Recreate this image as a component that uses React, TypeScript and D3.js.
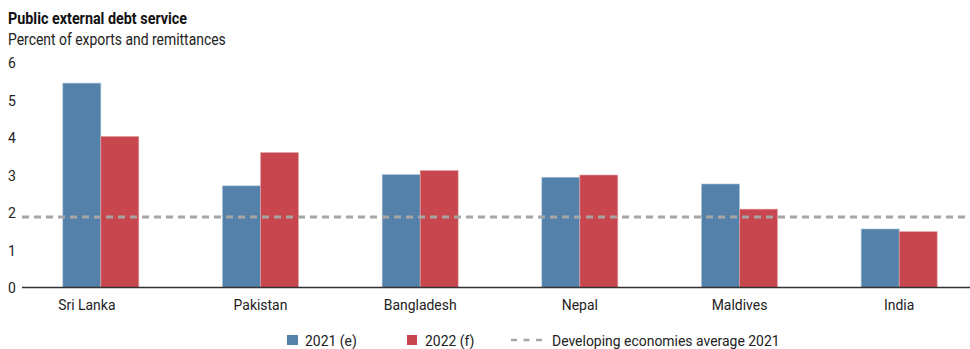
import React from "react";
import * as d3 from "d3";

const categories = ["Sri Lanka", "Pakistan", "Bangladesh", "Nepal", "Maldives", "India"];
const series2021 = [5.45, 2.71, 3.01, 2.94, 2.76, 1.56];
const series2022 = [4.03, 3.6, 3.12, 3.0, 2.09, 1.49];
const developingAverage2021 = 1.88;
const yTicks = [0, 1, 2, 3, 4, 5, 6];
const seriesNames = ["2021 (e)", "2022 (f)"];
const averageLabel = "Developing economies average 2021";

const W = 970;
const H = 349;
const FONT = "Roboto, 'Noto Sans', sans-serif";
const BLUE = "#5481a9";
const RED = "#c8464d";
const GRAY = "#a6a6a6";

// Narrow text: Roboto squeezed horizontally to a condensed width
function NText({
  x,
  y,
  sx = 0.9,
  anchor = "start",
  size = 15.5,
  weight = "normal",
  fill = "#222",
  children,
}: {
  x: number;
  y: number;
  sx?: number;
  anchor?: "start" | "middle" | "end";
  size?: number;
  weight?: string;
  fill?: string;
  children: React.ReactNode;
}) {
  return (
    <text
      transform={`translate(${x},${y}) scale(${sx},1)`}
      fontSize={size}
      fontWeight={weight}
      textAnchor={anchor}
      fill={fill}
    >
      {children}
    </text>
  );
}

export default function App() {
  const x = d3.scaleBand<string>().domain(categories).range([21, 979]).paddingInner(0).paddingOuter(0);
  const y = d3.scaleLinear().domain([0, 6]).range([287.5, 62.5]);
  const barW = 38;

  const series = [
    { name: seriesNames[0], values: series2021, color: BLUE },
    { name: seriesNames[1], values: series2022, color: RED },
  ];

  return (
    <svg width={W} height={H} style={{ position: "absolute", left: 0, top: 0, background: "#fff" }} fontFamily={FONT}>
      <NText x={8} y={24} size={16.5} sx={0.87} weight="bold" fill="#111">Public external debt service</NText>
      <NText x={8} y={45} size={16} sx={0.87}>Percent of exports and remittances</NText>

      {yTicks.map((t) => (
        <NText key={t} x={8} y={y(t) + 5.5}>{t}</NText>
      ))}

      {series.map((s, si) =>
        categories.map((c, i) => {
          const cx = (x(c) as number) + x.bandwidth() / 2;
          const x0 = cx - barW + si * barW;
          return (
            <rect
              key={s.name + c}
              x={x0}
              y={y(s.values[i])}
              width={barW}
              height={y(0) - y(s.values[i])}
              fill={s.color}
              stroke={si === 0 ? "#a9c0d6" : "#e6a6aa"}
              strokeWidth={0.6}
            />
          );
        })
      )}

      <line x1={22} x2={970} y1={y(0)} y2={y(0)} stroke="#333" strokeWidth={1.3} />

      <line
        x1={22}
        x2={970}
        y1={y(developingAverage2021)}
        y2={y(developingAverage2021)}
        stroke={GRAY}
        strokeWidth={3}
        strokeDasharray="7 5"
      />

      {categories.map((c, i) => {
        const cx = (x(c) as number) + x.bandwidth() / 2 + (i === 0 ? -14 : 0);
        return (
          <NText key={c} x={cx} y={310} anchor="middle">{c}</NText>
        );
      })}

      {/* legend */}
      <rect x={287} y={335} width={11} height={10} fill={BLUE} />
      <NText x={305} y={345.5}>{seriesNames[0]}</NText>
      <rect x={407} y={335} width={10} height={10} fill={RED} />
      <NText x={425} y={345.5}>{seriesNames[1]}</NText>
      <line x1={511} x2={542} y1={340} y2={340} stroke={GRAY} strokeWidth={2.5} strokeDasharray="6 6.5" />
      <NText x={552} y={345.5}>{averageLabel}</NText>
    </svg>
  );
}
